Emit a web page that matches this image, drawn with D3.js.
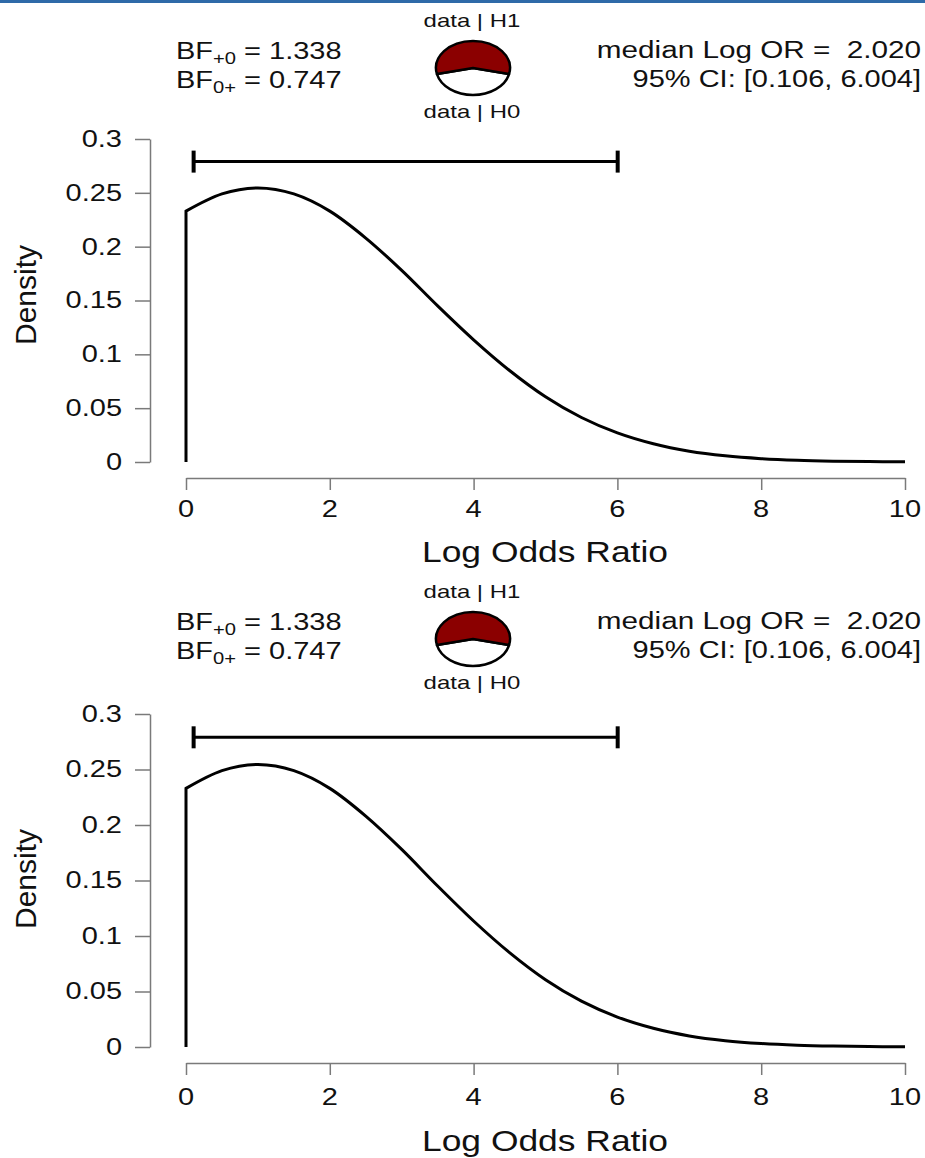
<!DOCTYPE html>
<html>
<head>
<meta charset="utf-8">
<script src="https://cdn.jsdelivr.net/npm/d3@7"></script>
<style>
  body { margin: 0; background: #fff; }
  svg { display: block; font-family: "Liberation Sans", Arial, sans-serif; }
  text { white-space: pre; }
</style>
</head>
<body>
<div id="chart"></div>
<script>
// posterior density of the log odds ratio (step 0.5)
var logOR = [0, 0.5, 1, 1.5, 2, 2.5, 3, 3.5, 4, 4.5, 5, 5.5, 6, 6.5, 7, 7.5, 8, 8.5, 9, 9.5, 10];
var density = [0.233, 0.249, 0.2546, 0.249, 0.233, 0.208, 0.178, 0.145, 0.1135, 0.085, 0.0606,
               0.0413, 0.027, 0.0169, 0.010, 0.0057, 0.0031, 0.0016, 0.0008, 0.0004, 0.0002];

var ciLower = 0.106, ciUpper = 6.004, ciHeight = 0.279;
var bfPlus0 = 1.338, bf0Plus = 0.747, medianLogOR = 2.020;

var xTicks = [0, 2, 4, 6, 8, 10];
var yTicks = [0, 0.05, 0.1, 0.15, 0.2, 0.25, 0.3];
var yTickLabels = ["0", "0.05", "0.1", "0.15", "0.2", "0.25", "0.3"];

var W = 925, H = 1158;
// the picture is a bit wider than tall, horizontal text comes out stretched
var SX = 1.26;

var svg = d3.select("#chart").append("svg")
    .attr("width", W)
    .attr("height", H);

// blue line across the top
svg.append("rect")
    .attr("x", 0).attr("y", 0)
    .attr("width", W).attr("height", 3)
    .attr("fill", "#2f6aa8");

// two panels, slightly different vertical geometry
var panels = [
  {head: 0,   y0: 462,  y03: 139, xAxisY: 478,  tickLab: 517,  title: 562,  densY: 295},
  {head: 571, y0: 1047, y03: 714, xAxisY: 1063, tickLab: 1105, title: 1151, densY: 879}
];

panels.forEach(function(p) { drawPanel(p); });

function stretch(sel, k) {
  sel.each(function() {
    var w = this.getComputedTextLength();
    d3.select(this).attr("textLength", w * k).attr("lengthAdjust", "spacingAndGlyphs");
  });
}

function drawPanel(p) {
  var g = svg.append("g");

  var x = d3.scaleLinear().domain([0, 10]).range([186, 905]);
  var y = d3.scaleLinear().domain([0, 0.3]).range([p.y0, p.y03]);

  // y axis
  var yAxis = g.append("g")
      .attr("transform", "translate(150,0)")
      .call(d3.axisLeft(y).tickValues(yTicks).tickSize(15).tickSizeOuter(0)
          .tickFormat(function(d, i) { return yTickLabels[i]; }));
  yAxis.selectAll("path, line").attr("stroke", "#7a7a7a").attr("stroke-width", 1.5);
  yAxis.selectAll("text")
      .attr("x", -28)
      .attr("font-size", 23)
      .attr("font-family", "Liberation Sans, Arial, sans-serif")
      .attr("fill", "#111")
      .call(stretch, SX);

  // x axis
  var xAxis = g.append("g")
      .attr("transform", "translate(0," + p.xAxisY + ")")
      .call(d3.axisBottom(x).tickValues(xTicks).tickSize(12).tickSizeOuter(0));
  xAxis.selectAll("path, line").attr("stroke", "#7a7a7a").attr("stroke-width", 1.5);
  xAxis.selectAll("text").remove();

  g.selectAll(".xlab")
      .data(xTicks)
      .enter().append("text")
      .attr("class", "xlab")
      .attr("x", function(d) { return x(d); })
      .attr("y", p.tickLab)
      .attr("text-anchor", "middle")
      .attr("font-size", 23)
      .attr("fill", "#111")
      .text(function(d) { return d; })
      .call(stretch, SX);

  g.append("text")
      .attr("x", 545)
      .attr("y", p.title)
      .attr("text-anchor", "middle")
      .attr("font-size", 30)
      .attr("fill", "#111")
      .text("Log Odds Ratio")
      .call(stretch, 1.18);

  g.append("text")
      .attr("transform", "translate(36," + p.densY + ") rotate(-90)")
      .attr("text-anchor", "middle")
      .attr("font-size", 30)
      .attr("fill", "#111")
      .text("Density");

  // density curve, with the drop at the boundary x = 0
  var pts = logOR.map(function(d, i) { return [d, density[i]]; });
  var line = d3.line()
      .x(function(d) { return x(d[0]); })
      .y(function(d) { return y(d[1]); })
      .curve(d3.curveMonotoneX);
  g.append("path")
      .attr("d", "M" + x(0) + "," + y(0) + "L" + line(pts).slice(1))
      .attr("fill", "none")
      .attr("stroke", "#000")
      .attr("stroke-width", 3);

  // credible interval bar
  var ci = g.append("g").attr("stroke", "#000");
  ci.append("line")
      .attr("x1", x(ciLower)).attr("x2", x(ciUpper))
      .attr("y1", y(ciHeight)).attr("y2", y(ciHeight))
      .attr("stroke-width", 3);
  ci.selectAll(".cap")
      .data([ciLower, ciUpper])
      .enter().append("line")
      .attr("class", "cap")
      .attr("x1", function(d) { return x(d); })
      .attr("x2", function(d) { return x(d); })
      .attr("y1", y(ciHeight) - 11)
      .attr("y2", y(ciHeight) + 11)
      .attr("stroke-width", 4);

  // header texts
  var h = p.head;
  var bf1 = g.append("text").attr("x", 176).attr("y", h + 59).attr("font-size", 23).attr("fill", "#111");
  bf1.append("tspan").text("BF");
  bf1.append("tspan").attr("font-size", 16).attr("dy", 5).text("+0");
  bf1.append("tspan").attr("dy", -5).text(" = " + bfPlus0.toFixed(3));
  bf1.call(stretch, SX);

  var bf2 = g.append("text").attr("x", 176).attr("y", h + 88).attr("font-size", 23).attr("fill", "#111");
  bf2.append("tspan").text("BF");
  bf2.append("tspan").attr("font-size", 16).attr("dy", 5).text("0+");
  bf2.append("tspan").attr("dy", -5).text(" = " + bf0Plus.toFixed(3));
  bf2.call(stretch, SX);

  g.append("text")
      .attr("x", 921).attr("y", h + 58)
      .attr("text-anchor", "end")
      .attr("font-size", 23).attr("fill", "#111")
      .text("median Log OR =  " + medianLogOR.toFixed(3))
      .call(stretch, 1.29);
  g.append("text")
      .attr("x", 921).attr("y", h + 87)
      .attr("text-anchor", "end")
      .attr("font-size", 23).attr("fill", "#111")
      .text("95% CI: [" + ciLower.toFixed(3) + ", " + ciUpper.toFixed(3) + "]")
      .call(stretch, SX);

  g.append("text")
      .attr("x", 472).attr("y", h + 27)
      .attr("text-anchor", "middle")
      .attr("font-size", 19).attr("fill", "#111")
      .text("data | H1")
      .call(stretch, SX);
  g.append("text")
      .attr("x", 472).attr("y", h + 118)
      .attr("text-anchor", "middle")
      .attr("font-size", 19).attr("fill", "#111")
      .text("data | H0")
      .call(stretch, SX);

  // probability wheel: H1 red on top, H0 white centered at the bottom
  var pH1 = bfPlus0 / (1 + bfPlus0);
  var wheel = [{k: "H0", v: 1 - pH1, c: "#fff"}, {k: "H1", v: pH1, c: "#8b0000"}];
  var whiteSpan = wheel[0].v * 2 * Math.PI;
  var pie = d3.pie().sort(null).value(function(d) { return d.v; })
      .startAngle(Math.PI - whiteSpan / 2)
      .endAngle(Math.PI - whiteSpan / 2 + 2 * Math.PI);
  var arc = d3.arc().innerRadius(0).outerRadius(1);

  var wg = g.append("g")
      .attr("transform", "translate(473," + (h + 68) + ") scale(37,27)");
  wg.selectAll("path")
      .data(pie(wheel))
      .enter().append("path")
      .attr("d", arc)
      .attr("fill", function(d) { return d.data.c; })
      .attr("stroke", "#000")
      .attr("stroke-width", 2.5)
      .attr("stroke-linejoin", "round")
      .attr("vector-effect", "non-scaling-stroke");
}
</script>
</body>
</html>
